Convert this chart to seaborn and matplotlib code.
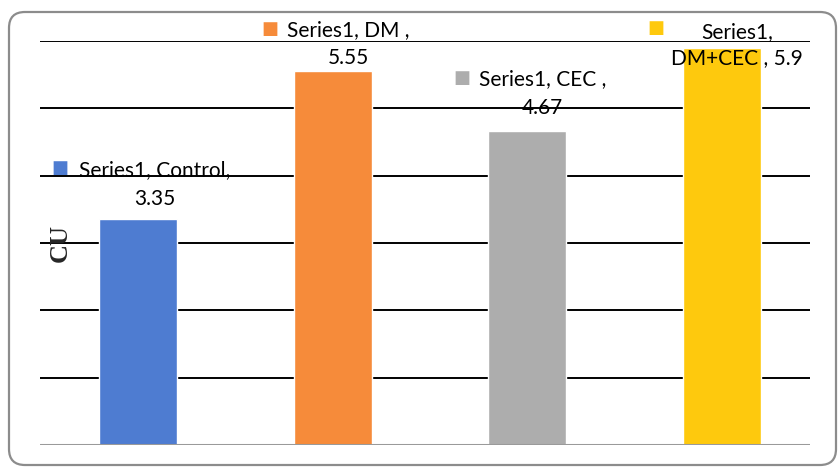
import numpy as np
import pandas as pd
import seaborn as sns
import matplotlib.pyplot as plt
from matplotlib.patches import FancyBboxPatch

# data
categories = ["Control", "DM", "CEC", "DM+CEC"]
values = [3.35, 5.55, 4.67, 5.9]
series_name = "Series1"
colors = ["#4E7CD1", "#F68B3A", "#ADADAD", "#FEC90D"]

# label text lines (as shown in the picture)
label_line1 = ["Series1, Control,", "Series1, DM ,", "Series1, CEC ,", "Series1,"]
label_line2 = ["3.35", "5.55", "4.67", "DM+CEC , 5.9"]

# label offsets in pixels from bar top: (square dx, square dy, text dx, line1 dy, line2 dy)
label_offsets = [
    (-78, 51, 17, 49, 20),
    (-63, 42, 16, 41, 13),
    (-65, 53, 15, 51, 23),
    (-66, 20, 15, 16, -10),
]

sns.set_style("white")
plt.rcParams['font.family'] = ['Lato', 'DejaVu Sans']

df = pd.DataFrame({"group": categories, "CU": values})

fig = plt.figure(figsize=(8.39, 4.69), dpi=100)
ax = fig.add_axes([40 / 839, 1 - 445 / 469, 770 / 839, 404 / 469])

sns.barplot(data=df, x="group", y="CU", hue="group", palette=colors,
            width=0.40, legend=False, ax=ax, zorder=3, saturation=1)

ax.set_ylim(0, 6)
ax.set_xlim(-0.503, 3.452)
ax.set_yticks(range(1, 7))
ax.yaxis.grid(True, color="black", linewidth=1.4, zorder=0)
ax.set_axisbelow(True)
ax.axhline(0, color="#9A9A9A", linewidth=2.2, zorder=4)
ax.tick_params(left=False, bottom=False, labelleft=False, labelbottom=False)
for s in ax.spines.values():
    s.set_visible(False)
ax.set_xlabel("")
ax.set_ylabel("CU", fontfamily="Liberation Serif", fontweight="bold", fontsize=19)
ax.yaxis.set_label_coords(0.0416, 0.5)

px = 0.72  # pixels -> points at dpi 100
for i, (v, c) in enumerate(zip(values, colors)):
    sdx, sdy, tdx, l1, l2 = label_offsets[i]
    ax.annotate("■", xy=(i, v), xytext=(sdx * px, sdy * px), textcoords="offset points",
                ha="center", va="center", color=c, fontsize=13, fontfamily="DejaVu Sans", zorder=6)
    ax.annotate(label_line1[i], xy=(i, v), xytext=(tdx * px, l1 * px), textcoords="offset points",
                ha="center", va="center", color="black", fontsize=15, zorder=6)
    ax.annotate(label_line2[i], xy=(i, v), xytext=(tdx * px, l2 * px), textcoords="offset points",
                ha="center", va="center", color="black", fontsize=15, zorder=6)

# rounded chart border
border = FancyBboxPatch((9, 4), 827, 453, boxstyle="round,pad=0,rounding_size=16",
                        transform=None, facecolor="none", edgecolor="#8C8C8C", linewidth=1.6)
fig.patches.append(border)

fig.savefig("out.png", dpi=100)
